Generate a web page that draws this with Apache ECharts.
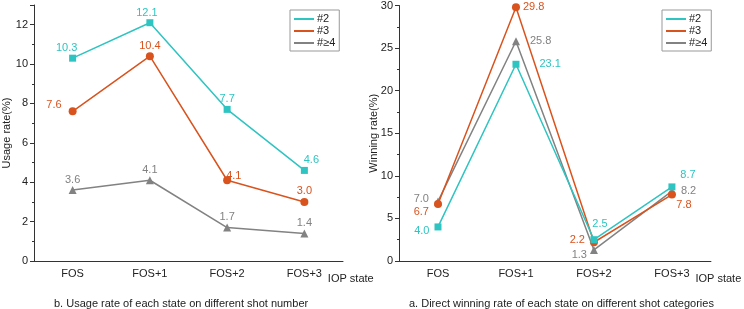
<!DOCTYPE html>
<html>
<head>
<meta charset="utf-8">
<script src="https://cdn.jsdelivr.net/npm/echarts@6/dist/echarts.min.js"></script>
<style>
  html, body { margin: 0; padding: 0; background: #fff; }
  #main { width: 744px; height: 309px; }
</style>
</head>
<body>
<div id="main"></div>
<script>
// categories
var states = ['FOS', 'FOS+1', 'FOS+2', 'FOS+3'];
var seriesNames = ['#2', '#3', '#≥4'];

// b. usage rate (%)
var usage2 = [10.3, 12.1, 7.7, 4.6];
var usage3 = [7.6, 10.4, 4.1, 3.0];
var usage4 = [3.6, 4.1, 1.7, 1.4];

// a. direct winning rate (%)
var win2 = [4.0, 23.1, 2.5, 8.7];
var win3 = [6.7, 29.8, 2.2, 7.8];
var win4 = [7.0, 25.8, 1.3, 8.2];

var colors = ['#2ec4c1', '#d9531e', '#828282'];
var symbols = ['rect', 'circle', 'triangle'];
var symbolSizes = [7, 8, 8];

// label placement per point: [position, dx, dy]
var usagePos = [
  [['top', -6, 0], ['top', -3, 0], ['top', 0, 0], ['top', 7, 0]],
  [['left', -6, -6], ['top', 0, 0], ['right', -6, -4], ['top', 0, 0]],
  [['top', 0, 0], ['top', 0, 0], ['top', 0, 0], ['top', 0, 0]]
];
var winPos = [
  [['left', -4, 4], ['right', 19, 0], ['top', 6, -6], ['top', 16, -2]],
  [['left', -4, 8], ['right', 2, 0], ['left', -4, -2], ['bottom', 12, 0]],
  [['left', -4, -2], ['right', 9, 0], ['left', -2, 5], ['right', 4, 0]]
];

function buildData(values, pos) {
  return values.map(function (v, i) {
    return {
      value: v,
      label: { position: pos[i][0], offset: [pos[i][1], pos[i][2]] }
    };
  });
}

function makeSeries(valuesList, posList, idx) {
  return valuesList.map(function (vals, k) {
    return {
      name: seriesNames[k],
      type: 'line',
      xAxisIndex: idx,
      yAxisIndex: idx,
      data: buildData(vals, posList[k]),
      symbol: symbols[k],
      symbolSize: symbolSizes[k],
      lineStyle: { color: colors[k], width: 1.5 },
      itemStyle: { color: colors[k] },
      label: {
        show: true,
        distance: 1,
        color: colors[k],
        fontSize: 11,
        fontFamily: 'Liberation Sans',
        formatter: function (p) { return p.value.toFixed(1); }
      },
      z: 3 - k
    };
  });
}

var axisLine = { lineStyle: { color: '#333', width: 1 } };
var font = 'Liberation Sans';

function xAxis(idx, nameGap) {
  return {
    gridIndex: idx,
    type: 'category',
    data: states,
    name: 'IOP state',
    nameLocation: 'end',
    nameGap: nameGap,
    nameTextStyle: { color: '#222', fontSize: 11, fontFamily: font, align: 'right', verticalAlign: 'top', padding: [12, 0, 0, 0] },
    axisLine: axisLine,
    axisTick: { alignWithLabel: true, inside: true, length: 4, lineStyle: { color: '#333' } },
    axisLabel: { color: '#222', fontSize: 11, fontFamily: font, margin: 7 },
    splitLine: { show: false }
  };
}

function yAxis(idx, name, max, interval, nameGap) {
  return {
    gridIndex: idx,
    type: 'value',
    min: 0,
    max: max,
    interval: interval,
    name: name,
    nameLocation: 'middle',
    nameGap: nameGap,
    nameMoveOverlap: false,
    nameTextStyle: { color: '#222', fontSize: 11, fontFamily: font },
    axisLine: { show: true, lineStyle: { color: '#333', width: 1 } },
    axisTick: { show: true, length: 4, lineStyle: { color: '#333' } },
    minorTick: { show: true, splitNumber: 2, length: 2, lineStyle: { color: '#333' } },
    axisLabel: { color: '#222', fontSize: 11, fontFamily: font, margin: 6, showMaxLabel: idx === 1 },
    splitLine: { show: false }
  };
}

function legend(left) {
  return {
    left: left,
    top: 10,
    orient: 'vertical',
    data: seriesNames,
    icon: 'rect',
    itemWidth: 20,
    itemHeight: 2,
    itemGap: 0,
    padding: [3, 4, 2, 4],
    borderColor: '#999',
    borderWidth: 1,
    borderRadius: 0,
    selectedMode: false,
    textStyle: { color: '#222', fontSize: 11, lineHeight: 12, fontFamily: font, padding: [0, 0, 0, -2] }
  };
}

var chart = echarts.init(document.getElementById('main'));
chart.setOption({
  animation: false,
  color: colors,
  title: [
    { text: 'b. Usage rate of each state on different shot number', left: 49, top: 293,
      textStyle: { color: '#222', fontSize: 11, fontWeight: 'normal', fontFamily: font } },
    { text: 'a. Direct winning rate of each state on different shot categories', left: 404, top: 293,
      textStyle: { color: '#222', fontSize: 11, fontWeight: 'normal', fontFamily: font } }
  ],
  legend: [legend(290), legend(662)],
  grid: [
    { left: 30, right: 401, top: 5, bottom: 48, containLabel: false },
    { left: 399, right: 31, top: 5, bottom: 48, containLabel: false }
  ],
  xAxis: [xAxis(0, 23), xAxis(1, 29)],
  yAxis: [yAxis(0, 'Usage rate(%)', 13, 2, 22), yAxis(1, 'Winning rate(%)', 30, 5, 20)],
  series: makeSeries([usage2, usage3, usage4], usagePos, 0)
    .concat(makeSeries([win2, win3, win4], winPos, 1))
});
</script>
</body>
</html>
